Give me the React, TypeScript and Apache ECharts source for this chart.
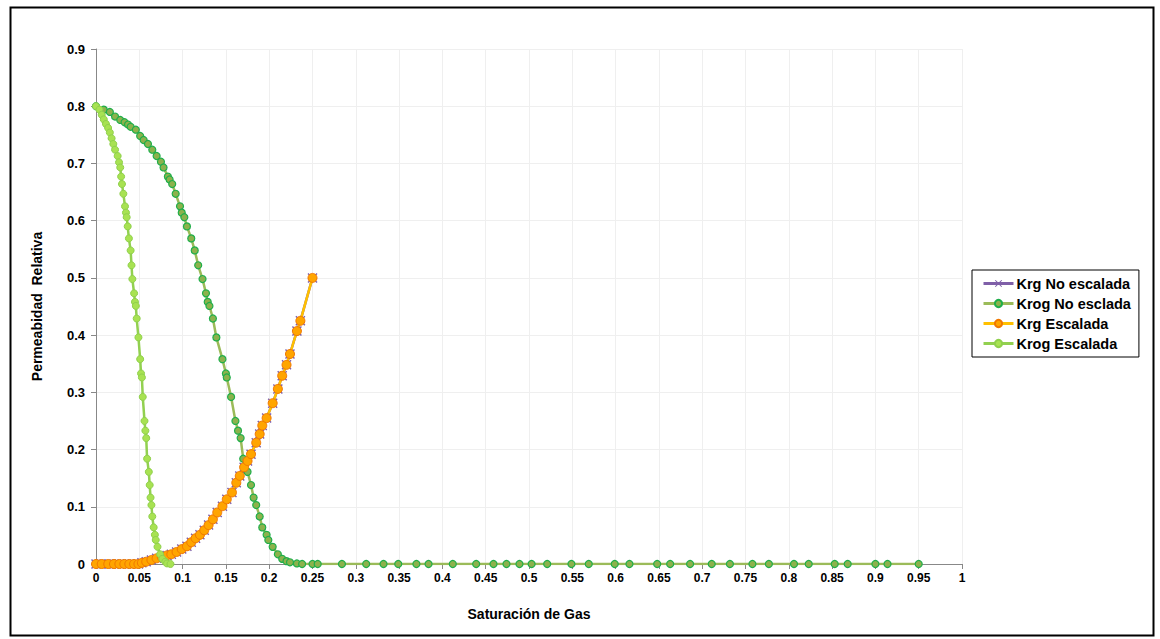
import React, { useEffect, useRef } from "react";
import * as echarts from "echarts";

// Krg (no escalada and escalada share the same values)
const krgX = [0, 0.0066, 0.0142, 0.0208, 0.027, 0.0327, 0.0385, 0.044, 0.049, 0.053, 0.058, 0.064, 0.07, 0.076, 0.082, 0.087, 0.093, 0.099, 0.105, 0.11, 0.115, 0.12, 0.125, 0.13, 0.135, 0.14, 0.146, 0.151, 0.157, 0.162, 0.166, 0.171, 0.175, 0.179, 0.185, 0.189, 0.192, 0.197, 0.204, 0.21, 0.215, 0.22, 0.224, 0.232, 0.236, 0.25];
const krgY = [0, 0, 0, 0, 0, 0, 0, 0, 0, 0.002, 0.004, 0.007, 0.01, 0.012, 0.015, 0.017, 0.021, 0.026, 0.031, 0.038, 0.045, 0.051, 0.059, 0.068, 0.078, 0.09, 0.101, 0.113, 0.125, 0.142, 0.154, 0.169, 0.18, 0.192, 0.212, 0.227, 0.242, 0.255, 0.281, 0.306, 0.329, 0.348, 0.367, 0.407, 0.425, 0.5];

// Krog no escalada
const krogX = [0, 0.009, 0.016, 0.022, 0.028, 0.033, 0.037, 0.04, 0.046, 0.051, 0.055, 0.06, 0.065, 0.07, 0.075, 0.078, 0.083, 0.085, 0.088, 0.092, 0.097, 0.099, 0.102, 0.105, 0.11, 0.114, 0.118, 0.123, 0.127, 0.129, 0.131, 0.135, 0.139, 0.146, 0.15, 0.151, 0.156, 0.161, 0.164, 0.167, 0.17, 0.175, 0.179, 0.182, 0.185, 0.189, 0.192, 0.197, 0.199, 0.204, 0.21, 0.215, 0.22, 0.224, 0.232, 0.238, 0.25, 0.256, 0.284, 0.312, 0.332, 0.349, 0.37, 0.384, 0.412, 0.439, 0.459, 0.474, 0.489, 0.503, 0.521, 0.549, 0.569, 0.599, 0.616, 0.648, 0.663, 0.686, 0.711, 0.732, 0.758, 0.777, 0.806, 0.823, 0.853, 0.868, 0.9, 0.914, 0.95];
const krogY = [0.8, 0.794, 0.79, 0.782, 0.776, 0.772, 0.768, 0.764, 0.759, 0.748, 0.741, 0.734, 0.724, 0.713, 0.703, 0.693, 0.677, 0.672, 0.664, 0.647, 0.625, 0.614, 0.606, 0.59, 0.569, 0.548, 0.522, 0.498, 0.473, 0.458, 0.451, 0.429, 0.396, 0.358, 0.333, 0.326, 0.292, 0.25, 0.233, 0.22, 0.184, 0.161, 0.138, 0.116, 0.103, 0.083, 0.064, 0.051, 0.042, 0.03, 0.017, 0.009, 0.005, 0.003, 0.001, 0, 0, 0, 0, 0, 0, 0, 0, 0, 0, 0, 0, 0, 0, 0, 0, 0, 0, 0, 0, 0, 0, 0, 0, 0, 0, 0, 0, 0, 0, 0, 0, 0, 0];

// Krog escalada
const krogEX = [0, 0.004, 0.0066, 0.009, 0.0115, 0.014, 0.016, 0.018, 0.02, 0.022, 0.025, 0.0266, 0.028, 0.029, 0.03, 0.0316, 0.0335, 0.0346, 0.0354, 0.0366, 0.038, 0.04, 0.041, 0.042, 0.044, 0.045, 0.046, 0.047, 0.049, 0.051, 0.052, 0.053, 0.054, 0.056, 0.057, 0.058, 0.059, 0.061, 0.062, 0.063, 0.064, 0.065, 0.0666, 0.068, 0.069, 0.071, 0.074, 0.0766, 0.08, 0.082, 0.086];
const krogEY = [0.8, 0.794, 0.785, 0.777, 0.769, 0.762, 0.754, 0.744, 0.734, 0.724, 0.713, 0.702, 0.693, 0.677, 0.664, 0.647, 0.625, 0.614, 0.606, 0.59, 0.569, 0.548, 0.522, 0.498, 0.473, 0.458, 0.451, 0.429, 0.396, 0.358, 0.333, 0.326, 0.292, 0.25, 0.233, 0.22, 0.184, 0.161, 0.138, 0.116, 0.103, 0.083, 0.064, 0.051, 0.042, 0.03, 0.017, 0.009, 0.004, 0.001, 0];

const seriesNames = ["Krg No escalada", "Krog No esclada", "Krg Escalada", "Krog Escalada"];

const pair = (xs: number[], ys: number[]) => xs.map((x, i) => [x, ys[i]]);

const FONT = "'Liberation Sans', Arial, sans-serif";
const CROSS = "path://M0,1 L1,0 L5,4 L9,0 L10,1 L6,5 L10,9 L9,10 L5,6 L1,10 L0,9 L4,5 Z";

export default function App() {
  const ref = useRef<HTMLDivElement>(null);
  useEffect(() => {
    document.body.style.margin = "0";
    const chart = echarts.init(ref.current!, null, { renderer: "svg" });
    chart.setOption({
      animation: false,
      backgroundColor: "#fff",
      textStyle: { fontFamily: FONT },
      grid: { left: 96, right: 198, top: 49, bottom: 75, containLabel: false },
      xAxis: {
        type: "value",
        min: 0,
        max: 1,
        interval: 0.05,
        name: "Saturación de Gas",
        nameLocation: "middle",
        nameGap: 43,
        nameTextStyle: { fontWeight: "bold", fontSize: 14, color: "#000", fontFamily: FONT },
        axisLine: { show: true, lineStyle: { color: "#888", width: 1 } },
        axisTick: { show: true, length: 5, lineStyle: { color: "#888" } },
        axisLabel: { color: "#000", fontWeight: "bold", fontSize: 12, fontFamily: FONT, margin: 8 },
        splitLine: { show: true, lineStyle: { color: "#efefef", width: 1 } },
      },
      yAxis: {
        type: "value",
        min: 0,
        max: 0.9,
        interval: 0.1,
        name: "Permeabidad  Relativa",
        nameLocation: "middle",
        nameGap: 52,
        nameRotate: 90,
        nameTextStyle: { fontWeight: "bold", fontSize: 14, color: "#000", fontFamily: FONT },
        axisLine: { show: true, lineStyle: { color: "#888", width: 1 } },
        axisTick: { show: true, length: 5, lineStyle: { color: "#888" } },
        axisLabel: { color: "#000", fontWeight: "bold", fontSize: 13, fontFamily: FONT, margin: 11 },
        splitLine: { show: true, lineStyle: { color: "#efefef", width: 1 } },
      },
      legend: {
        orient: "vertical",
        left: 972,
        top: 270,
        width: 168,
        padding: [6, 8, 6, 10],
        itemGap: 5,
        itemWidth: 30,
        itemHeight: 9,
        borderColor: "#000",
        borderWidth: 1,
        data: seriesNames,
        lineStyle: { width: 3 },
        textStyle: { fontWeight: "bold", fontSize: 14.5, color: "#000", fontFamily: FONT, lineHeight: 15, padding: [0, 0, 0, -2] },
      },
      graphic: [
        {
          type: "rect",
          left: 8,
          top: 5,
          shape: { width: 1143, height: 628 },
          style: { fill: "none", stroke: "#000", lineWidth: 2 },
          silent: true,
          z: 100,
        },
      ],
      series: [
        {
          name: seriesNames[0],
          type: "line",
          data: pair(krgX, krgY),
          symbol: CROSS,
          symbolSize: 10,
          lineStyle: { color: "#7f5fa8", width: 2.5 },
          itemStyle: { color: "#7f5fa8" },
          z: 2,
        },
        {
          name: seriesNames[1],
          type: "line",
          data: pair(krogX, krogY),
          symbol: "circle",
          symbolSize: 7,
          lineStyle: { color: "#9bbb59", width: 2.5 },
          itemStyle: { color: "#8cb24c", borderColor: "#1fae4a", borderWidth: 1.2 },
          z: 3,
        },
        {
          name: seriesNames[2],
          type: "line",
          data: pair(krgX, krgY),
          symbol: "circle",
          symbolSize: 9,
          lineStyle: { color: "#ffc000", width: 2.5 },
          itemStyle: { color: "#ffa500", borderColor: "#f07800", borderWidth: 1 },
          z: 4,
        },
        {
          name: seriesNames[3],
          type: "line",
          data: pair(krogEX, krogEY),
          symbol: "circle",
          symbolSize: 7,
          lineStyle: { color: "#92d050", width: 2.5 },
          itemStyle: { color: "#a8e252", borderColor: "#8fd04c", borderWidth: 1 },
          z: 5,
        },
      ],
    });
    return () => chart.dispose();
  }, []);
  return <div ref={ref} style={{ width: 1160, height: 639 }} />;
}
